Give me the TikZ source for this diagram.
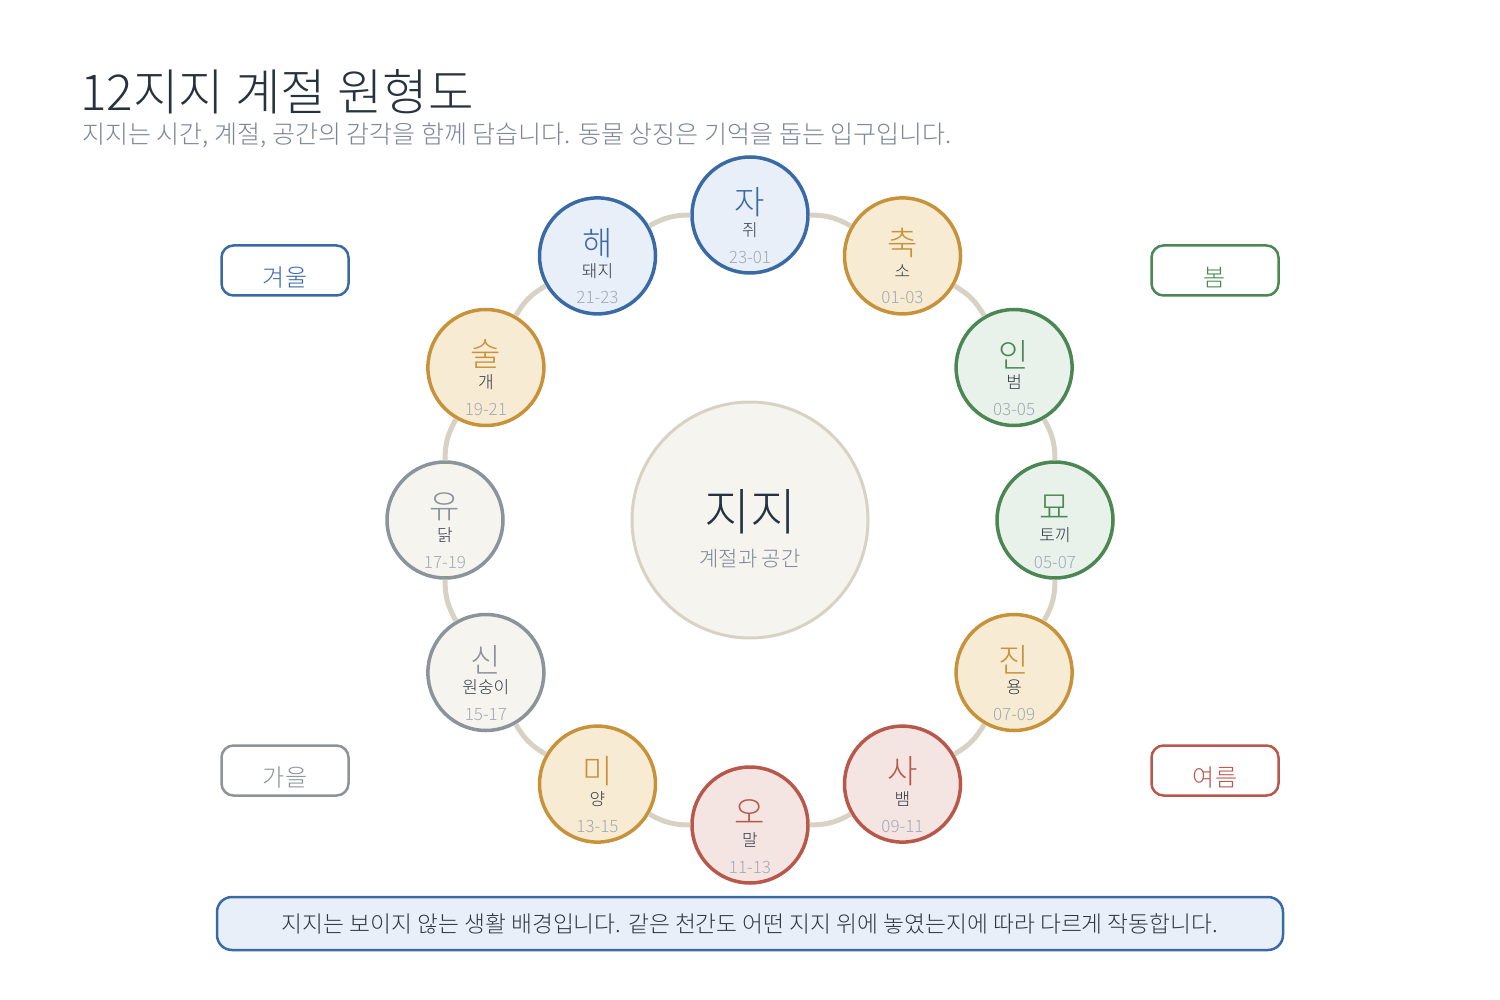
\documentclass[tikz,border=0pt]{standalone}
\usepackage{fontspec}
\setmainfont{Noto Sans CJK KR}[UprightFont=* Light]
\usepackage{tikz}
\usetikzlibrary{positioning}

\definecolor{blueL}{HTML}{3A6AA6}
\definecolor{blueF}{HTML}{E9EFF8}
\definecolor{goldL}{HTML}{C8923A}
\definecolor{goldF}{HTML}{F7EBD3}
\definecolor{greenL}{HTML}{4A8753}
\definecolor{greenF}{HTML}{E8F1EA}
\definecolor{redL}{HTML}{B8584B}
\definecolor{redF}{HTML}{F5E5E2}
\definecolor{grayL}{HTML}{8B939B}
\definecolor{grayF}{HTML}{F5F4EF}
\definecolor{ringC}{HTML}{D8D2C5}
\definecolor{titleC}{HTML}{263240}
\definecolor{subC}{HTML}{7B8596}
\definecolor{animalC}{HTML}{2F3742}
\definecolor{hoursC}{HTML}{A1A9B5}

\tikzset{
  zhicirc/.style={circle, draw=#1L, fill=#1F, line width=3.5pt, minimum size=116pt, inner sep=0pt},
  bigch/.style={inner sep=0pt, font=\fontsize{33}{36}\selectfont},
  animal/.style={inner sep=0pt, text=animalC, font=\fontsize{17}{20}\selectfont},
  hours/.style={inner sep=0pt, text=hoursC, font=\fontsize{17}{20}\selectfont},
  ring/.style={draw=ringC, line width=5pt},
  season/.style={draw=#1L, fill=white, line width=2.5pt, rounded corners=12pt, minimum width=127pt, minimum height=50pt},
  seasontxt/.style={inner sep=0pt, text=#1L, font=\fontsize{24}{28}\selectfont}
}

% one branch: name, position, branch, animal, hours, colour
\def\zhi(#1)(#2)#3#4#5#6{%
  \node[zhicirc=#6] (#1) at (#2) {};
  \node[bigch, text=#6L] (#1-c) at ([yshift=13pt]#1.center) {#3};
  \node[animal] (#1-a) at ([yshift=-15pt]#1.center) {#4};
  \node[hours] (#1-h) at ([yshift=-42pt]#1.center) {#5};
}

\begin{document}
\begin{tikzpicture}[x=1pt, y=-1pt]
			%%%%% START %%%%%
			
			\fill[white] (0,0) rectangle (1500,1000);
			\useasboundingbox (0,0) rectangle (1500,1000);
			
			\node[anchor=base west, inner sep=0pt, text=titleC, font=\fontsize{49.5}{56}\selectfont] (title) at (80,111) {12지지 계절 원형도};
			\node[anchor=base west, inner sep=0pt, text=subC, font=\fontsize{25}{28}\selectfont] (subtitle) at (82,144) {지지는 시간, 계절, 공간의 감각을 함께 담습니다. 동물 상징은 기억을 돕는 입구입니다.};
			
			\node[circle, draw=ringC, fill=grayF, line width=3pt, minimum size=236pt, inner sep=0pt] (core) at (750,520) {};
			\node[inner sep=0pt, text=titleC, font=\fontsize{50}{56}\selectfont] (core-t) at (750,512) {지지};
			\node[inner sep=0pt, text=subC, font=\fontsize{21}{24}\selectfont] (core-s) at (750,559) {계절과 공간};
			
			\zhi(ja)(750,215){자}{쥐}{23-01}{blue}
			\zhi(chuk)(902.5,255.9){축}{소}{01-03}{gold}
			\zhi(in)(1014.1,367.5){인}{범}{03-05}{green}
			\zhi(myo)(1055,520){묘}{토끼}{05-07}{green}
			\zhi(jin)(1014.1,672.5){진}{용}{07-09}{gold}
			\zhi(sa)(902.5,784.1){사}{뱀}{09-11}{red}
			\zhi(o)(750,825){오}{말}{11-13}{red}
			\zhi(mi)(597.5,784.1){미}{양}{13-15}{gold}
			\zhi(sin)(485.9,672.5){신}{원숭이}{15-17}{gray}
			\zhi(yu)(445,520){유}{닭}{17-19}{gray}
			\zhi(sul)(485.9,367.5){술}{개}{19-21}{gold}
			\zhi(hae)(597.5,255.9){해}{돼지}{21-23}{blue}
			
			\draw[ring] (ja) to[bend left=15] (chuk);
			\draw[ring] (chuk) to[bend left=15] (in);
			\draw[ring] (in) to[bend left=15] (myo);
			\draw[ring] (myo) to[bend left=15] (jin);
			\draw[ring] (jin) to[bend left=15] (sa);
			\draw[ring] (sa) to[bend left=15] (o);
			\draw[ring] (o) to[bend left=15] (mi);
			\draw[ring] (mi) to[bend left=15] (sin);
			\draw[ring] (sin) to[bend left=15] (yu);
			\draw[ring] (yu) to[bend left=15] (sul);
			\draw[ring] (sul) to[bend left=15] (hae);
			\draw[ring] (hae) to[bend left=15] (ja);
			
			\node[season=blue] (winter) at (285,270.5) {};
			\node[seasontxt=blue] (winter-t) at ([yshift=-7pt]winter.center) {겨울};
			\node[season=green] (spring) at (1215,270.5) {};
			\node[seasontxt=green] (spring-t) at ([yshift=-7pt]spring.center) {봄};
			\node[season=gray] (autumn) at (285,770.5) {};
			\node[seasontxt=gray] (autumn-t) at ([yshift=-7pt]autumn.center) {가을};
			\node[season=red] (summer) at (1215,770.5) {};
			\node[seasontxt=red] (summer-t) at ([yshift=-7pt]summer.center) {여름};
			
			\node[draw=blueL, fill=blueF, line width=2.5pt, rounded corners=15pt, minimum width=1066pt, minimum height=53pt, text=animalC, font=\fontsize{22.75}{26}\selectfont] (note) at (750,923.5) {지지는 보이지 않는 생활 배경입니다. 같은 천간도 어떤 지지 위에 놓였는지에 따라 다르게 작동합니다.};
			
			%%%%% END %%%%%
\end{tikzpicture}
\end{document}
